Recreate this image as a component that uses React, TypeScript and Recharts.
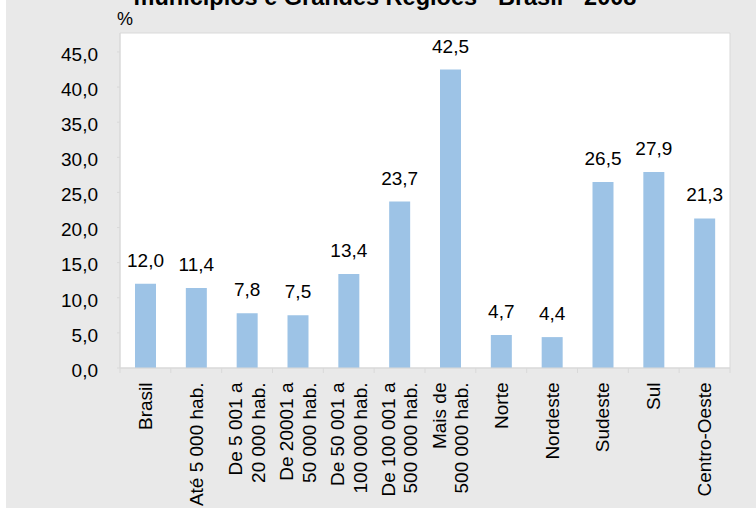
import React from 'react';
import {
  BarChart,
  Bar,
  XAxis,
  YAxis,
  CartesianGrid,
  ReferenceArea,
  LabelList,
} from 'recharts';

const categories = [
  'Brasil',
  'Até 5 000 hab.',
  'De 5 001 a\n20 000 hab.',
  'De 20001 a\n50 000 hab.',
  'De 50 001 a\n100 000 hab.',
  'De 100 001 a\n500 000 hab.',
  'Mais de\n500 000 hab.',
  'Norte',
  'Nordeste',
  'Sudeste',
  'Sul',
  'Centro-Oeste',
];

const values = [12.0, 11.4, 7.8, 7.5, 13.4, 23.7, 42.5, 4.7, 4.4, 26.5, 27.9, 21.3];

const yTicks = [0, 5, 10, 15, 20, 25, 30, 35, 40, 45];

const title = 'municípios e Grandes Regiões - Brasil - 2008';
const unit = '%';

const data = categories.map((name, i) => ({ name, value: values[i] }));

const FONT = '"Liberation Sans", Arial, sans-serif';
const AXIS = '#d9d9d9';
const Y_MAX = 47.7;
const FS = 19;

const fmt = (v: any) => Number(v).toFixed(1).replace('.', ',');

const XTick = (props: any) => {
  const { x, y, payload, index, visibleTicksCount } = props;
  const half = payload?.offset ?? 25.4;
  const lines = String(payload.value).split('\n');
  const n = lines.length;
  const last = index === (visibleTicksCount ?? categories.length) - 1;
  return (
    <g>
      <line x1={x - half} x2={x - half} y1={y} y2={y + 5} stroke={AXIS} />
      {last && <line x1={x + half} x2={x + half} y1={y} y2={y + 5} stroke={AXIS} />}
      <g transform={`translate(${x},${y + 14.5}) rotate(-90)`}>
        {lines.map((ln, i) => (
          <text
            key={i}
            x={0}
            y={6.5 + (i - (n - 1) / 2) * 22.5}
            textAnchor="end"
            fontSize={FS}
            fontFamily={FONT}
            fill="#000"
          >
            {ln}
          </text>
        ))}
      </g>
    </g>
  );
};

export default function App() {
  return (
    <div
      style={{
        position: 'absolute',
        left: 0,
        top: 0,
        width: 756,
        height: 509,
        background: '#fff',
        overflow: 'hidden',
        fontFamily: FONT,
      }}
    >
      <div
        style={{
          position: 'absolute',
          left: 6,
          top: 0,
          width: 750,
          height: 508,
          background: '#e9e9e9',
          overflow: 'hidden',
        }}
      >
        <div
          style={{
            position: 'absolute',
            left: 0,
            top: -14.4,
            width: 758,
            textAlign: 'center',
            fontSize: 23.5,
            lineHeight: '23.5px',
            fontWeight: 'bold',
            color: '#000',
            whiteSpace: 'nowrap',
          }}
        >
          {title}
        </div>
        <div
          style={{
            position: 'absolute',
            left: 111,
            top: 10,
            fontSize: 18,
            lineHeight: '18px',
            color: '#000',
          }}
        >
          {unit}
        </div>
        <BarChart
          width={750}
          height={508}
          data={data}
          margin={{ top: 33, right: 26, left: 0, bottom: 0 }}
          barCategoryGap={0}
        >
          <CartesianGrid fill="#fff" horizontal={false} vertical={false} />
          <ReferenceArea y1={0} y2={Y_MAX} fill="none" stroke={AXIS} strokeWidth={1} />
          <XAxis
            dataKey="name"
            interval={0}
            height={140}
            axisLine={{ stroke: AXIS }}
            tickLine={false}
            tickSize={0}
            tickMargin={0}
            tick={<XTick />}
          />
          <YAxis
            width={114}
            domain={[0, Y_MAX]}
            ticks={yTicks}
            allowDataOverflow
            axisLine={{ stroke: AXIS }}
            tickLine={{ stroke: AXIS }}
            tickSize={3}
            tickMargin={19}
            tickFormatter={fmt}
            tick={{ fill: '#000', fontSize: FS, fontFamily: FONT, dy: 2 }}
          />
          <Bar dataKey="value" fill="#9dc3e6" barSize={21} isAnimationActive={false}>
            <LabelList
              dataKey="value"
              position="top"
              offset={17}
              formatter={fmt}
              fill="#000"
              fontSize={FS}
              fontFamily={FONT}
            />
          </Bar>
        </BarChart>
      </div>
    </div>
  );
}
